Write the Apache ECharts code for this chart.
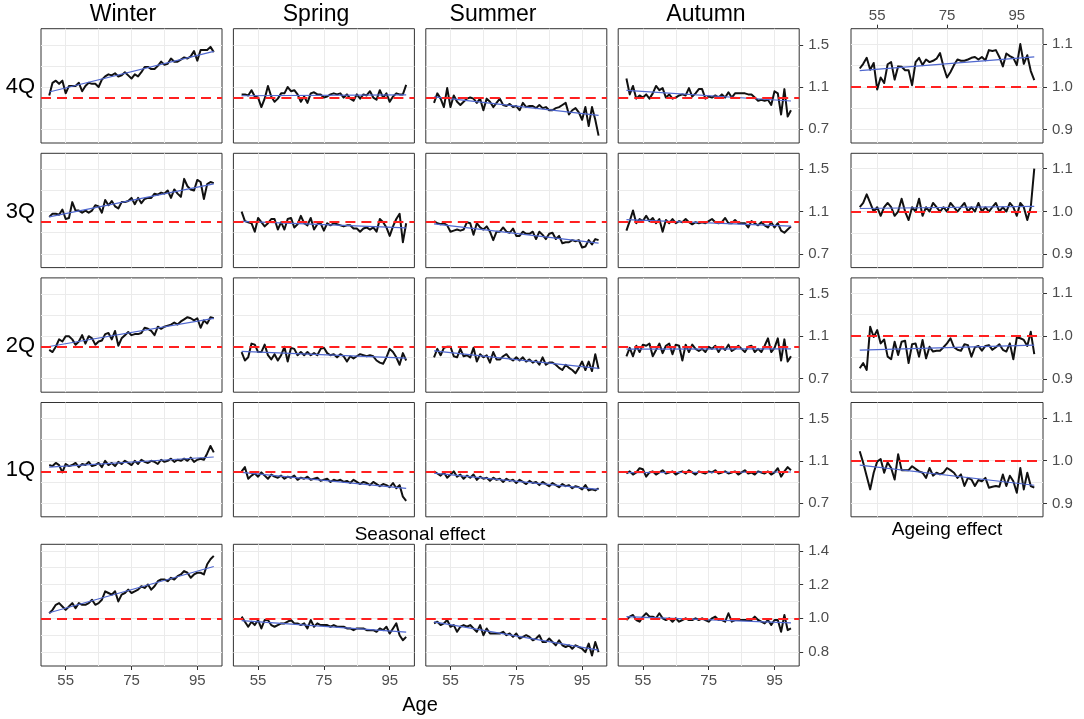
<!DOCTYPE html>
<html>
<head>
<meta charset="utf-8">
<script src="https://cdn.jsdelivr.net/npm/echarts@6/dist/echarts.min.js"></script>
<style>
  html, body { margin: 0; padding: 0; background: #ffffff; }
  #chart { width: 1084px; height: 719px; }
</style>
</head>
<body>
<div id="chart"></div>
<script>
// ---- data -------------------------------------------------------------
const ages = [50,51,52,53,54,55,56,57,58,59,60,61,62,63,64,65,66,67,68,69,70,71,72,73,74,75,
  76,77,78,79,80,81,82,83,84,85,86,87,88,89,90,91,92,93,94,95,96,97,98,99,100];

const seasons = ['Winter', 'Spring', 'Summer', 'Autumn'];
const quarters = ['4Q', '3Q', '2Q', '1Q'];

const ageTicks = [55, 75, 95];
const ageGridlines = [55, 65, 75, 85, 95];
const quarterTicks = [0.7, 1.1, 1.5];
const quarterGridlines = [0.7, 0.9, 1.1, 1.3, 1.5];
const seasonalTicks = [0.8, 1.0, 1.2, 1.4];
const seasonalGridlines = [0.8, 0.9, 1.0, 1.1, 1.2, 1.3, 1.4];
const ageingTicks = [0.9, 1.0, 1.1];
const ageingGridlines = [0.9, 0.95, 1.0, 1.05, 1.1];

// 4th quarter
const winter4Q = [1.02,1.14,1.16,1.13,1.16,1.04,1.11,1.11,1.11,1.14,1.06,1.11,1.14,1.13,1.13,1.10,1.17,1.20,1.22,1.21,1.23,1.20,1.21,1.24,1.21,1.18,1.22,1.20,1.24,1.29,1.29,1.27,1.27,1.30,1.34,1.31,1.32,1.37,1.34,1.34,1.36,1.38,1.37,1.39,1.44,1.35,1.45,1.45,1.45,1.48,1.43];
const spring4Q = [1.03,1.03,1.02,1.07,1.01,1.00,0.91,0.99,1.11,1.01,0.96,0.99,1.04,1.04,1.10,1.06,1.07,1.03,0.96,1.01,0.95,1.04,1.05,1.03,1.03,1.00,1.01,1.03,1.04,1.03,1.04,1.00,1.03,0.99,0.97,1.03,0.99,1.03,1.02,1.06,1.00,0.98,1.07,1.00,1.04,0.96,1.01,1.04,1.03,1.03,1.12];
const summer4Q = [0.95,1.04,0.99,0.91,1.09,0.91,1.02,0.96,0.93,0.96,0.99,1.00,0.99,0.95,0.99,0.88,0.99,0.96,0.91,0.95,0.99,0.93,0.92,0.94,0.91,0.92,0.88,0.95,0.91,0.92,0.92,0.90,0.93,0.90,0.91,0.88,0.88,0.90,0.91,0.93,0.95,0.84,0.88,0.90,0.86,0.79,0.91,0.73,0.91,0.79,0.64];
const autumn4Q = [1.18,1.03,1.11,0.99,1.02,1.00,1.03,0.99,1.04,1.11,1.07,1.09,1.00,1.03,0.99,1.00,1.02,1.03,1.02,1.09,1.01,1.04,1.08,1.08,0.99,1.01,1.00,1.02,1.00,1.03,1.00,1.05,1.00,1.04,1.04,1.04,1.04,1.03,1.03,1.00,0.97,0.98,0.97,0.98,0.93,1.06,1.04,0.84,1.08,0.82,0.88];

// 3rd quarter
const winter3Q = [1.05,1.08,1.08,1.07,1.12,1.03,1.04,1.19,1.11,1.11,1.09,1.11,1.09,1.11,1.16,1.15,1.09,1.21,1.16,1.20,1.15,1.13,1.19,1.19,1.20,1.23,1.17,1.23,1.18,1.22,1.23,1.23,1.27,1.26,1.28,1.27,1.30,1.23,1.31,1.27,1.24,1.41,1.34,1.31,1.30,1.40,1.38,1.22,1.36,1.38,1.37];
const spring3Q = [1.10,1.01,1.00,0.99,0.91,1.04,1.00,0.96,0.99,1.03,1.03,0.93,1.00,0.93,1.03,1.04,0.95,0.98,1.06,0.99,0.97,1.04,0.93,0.98,0.99,0.92,0.99,0.97,0.99,0.98,0.97,0.96,0.97,0.97,0.94,0.94,0.91,0.94,0.95,0.93,0.95,0.91,1.03,1.00,0.95,0.87,0.96,1.03,1.08,0.81,0.99];
const summer3Q = [1.01,0.99,0.98,0.99,0.97,0.91,0.92,0.93,0.92,0.93,1.00,0.99,0.88,0.99,0.95,0.93,0.96,0.91,0.83,0.91,0.91,0.95,0.91,0.90,0.94,0.87,0.87,0.91,0.89,0.89,0.91,0.84,0.91,0.88,0.84,0.89,0.90,0.84,0.87,0.80,0.81,0.81,0.83,0.82,0.83,0.76,0.77,0.83,0.79,0.84,0.83];
const autumn3Q = [0.92,1.01,1.11,0.99,1.03,1.01,1.06,1.01,1.04,0.99,1.03,0.91,1.02,0.99,1.03,0.99,1.01,1.00,1.03,1.00,0.98,1.00,0.99,1.00,0.99,1.01,1.03,1.00,0.99,1.00,1.04,0.99,0.99,1.02,0.99,0.99,0.99,0.95,1.01,0.99,0.97,1.00,0.97,0.95,1.00,0.95,0.99,0.92,0.90,0.93,0.96];

// 2nd quarter
const winter2Q = [0.97,0.95,1.00,1.07,1.05,1.10,1.10,1.07,1.02,1.05,1.11,1.03,1.10,1.08,1.02,1.05,1.06,1.12,1.13,1.07,1.15,1.01,1.08,1.11,1.14,1.11,1.12,1.12,1.13,1.18,1.17,1.15,1.11,1.19,1.17,1.19,1.20,1.21,1.23,1.21,1.24,1.26,1.28,1.27,1.25,1.27,1.18,1.25,1.22,1.28,1.27];
const spring2Q = [0.95,0.87,0.90,1.03,1.02,0.95,0.95,1.02,0.92,0.88,0.93,0.87,0.92,1.00,0.86,0.99,0.98,0.92,0.95,0.92,0.95,0.92,0.94,0.92,0.98,0.99,0.94,0.92,0.93,0.90,0.93,0.91,0.86,0.91,0.89,0.91,0.93,0.92,0.91,0.92,0.91,0.87,0.85,0.84,0.90,0.98,0.95,0.90,0.83,0.94,0.87];
const summer2Q = [0.90,0.98,0.92,0.99,1.00,1.00,0.91,0.90,0.98,0.91,0.92,0.90,0.99,0.86,0.93,0.90,0.92,0.85,0.95,0.88,0.88,0.91,0.93,0.89,0.87,0.90,0.87,0.90,0.86,0.88,0.85,0.87,0.83,0.90,0.83,0.85,0.85,0.83,0.80,0.78,0.83,0.80,0.78,0.75,0.80,0.86,0.78,0.86,0.77,0.93,0.79];
const autumn2Q = [0.91,0.99,0.91,1.01,0.95,1.02,1.01,1.03,0.91,0.97,1.03,0.94,1.01,1.03,0.93,1.02,1.01,0.87,1.02,0.95,1.02,0.98,0.96,0.98,0.95,1.00,0.98,1.01,0.95,1.00,0.97,1.02,0.96,0.98,1.01,0.98,0.95,1.00,1.01,0.95,0.98,0.95,1.01,1.08,0.95,0.99,1.08,0.87,1.07,0.86,0.91];

// 1st quarter
const winter1Q = [1.06,1.05,1.08,1.06,0.99,1.07,1.05,1.06,1.08,1.04,1.07,1.06,1.09,1.05,1.06,1.08,1.04,1.10,1.06,1.08,1.05,1.09,1.07,1.10,1.08,1.06,1.10,1.07,1.11,1.09,1.08,1.10,1.09,1.07,1.11,1.09,1.10,1.12,1.09,1.11,1.10,1.12,1.10,1.13,1.09,1.11,1.12,1.11,1.17,1.24,1.18];
const spring1Q = [1.00,1.04,0.93,0.96,0.98,0.95,0.99,0.96,0.93,0.97,0.95,0.94,0.96,0.93,0.95,0.94,0.96,0.92,0.94,0.93,0.95,0.92,0.93,0.94,0.91,0.92,0.93,0.90,0.92,0.91,0.92,0.90,0.91,0.89,0.92,0.90,0.88,0.90,0.89,0.87,0.90,0.88,0.86,0.88,0.87,0.85,0.89,0.84,0.87,0.76,0.72];
const summer1Q = [1.00,0.98,0.96,0.99,0.94,0.97,1.00,0.95,0.97,0.93,0.96,0.94,0.97,0.92,0.95,0.93,0.94,0.91,0.94,0.92,0.93,0.90,0.93,0.91,0.92,0.89,0.92,0.90,0.88,0.91,0.89,0.90,0.87,0.90,0.88,0.86,0.89,0.87,0.85,0.88,0.86,0.87,0.84,0.86,0.85,0.83,0.87,0.82,0.83,0.82,0.84];
const autumn1Q = [0.98,1.00,0.97,0.99,1.03,1.02,0.95,0.99,1.00,0.97,0.99,1.01,0.98,0.99,1.00,0.97,0.99,1.00,0.98,1.01,0.99,0.97,1.00,0.99,0.98,1.00,0.99,1.01,0.98,0.99,1.00,0.98,0.99,1.00,0.97,0.99,1.01,0.98,0.99,0.97,1.00,0.99,0.98,1.00,0.97,0.99,1.03,0.95,1.00,1.04,1.01];

// seasonal effect
const seasonalWinter = [1.03,1.05,1.08,1.09,1.07,1.05,1.07,1.09,1.06,1.09,1.08,1.08,1.09,1.11,1.08,1.09,1.11,1.16,1.15,1.14,1.16,1.10,1.14,1.15,1.17,1.15,1.16,1.17,1.19,1.18,1.20,1.17,1.19,1.22,1.23,1.23,1.22,1.24,1.23,1.25,1.26,1.28,1.27,1.24,1.26,1.27,1.27,1.26,1.32,1.35,1.37];
const seasonalSpring = [1.01,0.98,0.95,0.98,0.96,0.99,0.94,0.99,0.99,0.96,0.95,0.96,0.97,0.97,0.98,0.99,0.97,0.97,0.96,0.97,0.94,0.99,0.95,0.97,0.96,0.96,0.96,0.95,0.96,0.95,0.95,0.95,0.94,0.94,0.93,0.94,0.94,0.94,0.93,0.93,0.93,0.92,0.94,0.93,0.95,0.91,0.94,0.97,0.90,0.87,0.89];
const seasonalSummer = [0.97,0.98,0.96,0.97,0.99,0.95,0.96,0.92,0.95,0.96,0.95,0.96,0.94,0.92,0.96,0.90,0.94,0.91,0.91,0.91,0.91,0.92,0.90,0.91,0.89,0.91,0.88,0.89,0.90,0.89,0.87,0.88,0.90,0.86,0.86,0.88,0.86,0.84,0.87,0.84,0.83,0.84,0.82,0.84,0.83,0.82,0.80,0.85,0.78,0.86,0.80];
const seasonalAutumn = [0.99,1.01,1.02,0.99,0.98,1.01,1.03,1.01,1.01,1.00,1.03,1.00,0.99,1.00,0.98,1.00,0.98,0.99,1.00,0.99,0.99,1.00,0.99,1.00,0.99,0.98,1.00,1.01,0.99,0.99,0.98,1.03,0.98,0.99,0.99,0.99,0.99,0.99,0.99,1.01,0.99,0.98,0.97,0.99,0.96,0.99,0.99,0.92,1.02,0.93,0.94];

// ageing effect
const ageing4Q = [1.043,1.054,1.068,1.040,1.056,0.994,1.022,1.009,1.053,1.058,1.017,1.048,1.047,1.039,1.039,1.004,1.058,1.068,1.051,1.064,1.058,1.061,1.066,1.079,1.047,1.022,1.035,1.051,1.064,1.061,1.061,1.064,1.068,1.070,1.064,1.070,1.062,1.086,1.084,1.086,1.070,1.048,1.078,1.072,1.068,1.051,1.100,1.054,1.074,1.037,1.016];
const ageing3Q = [1.01,1.02,1.04,1.02,1.00,1.01,0.99,1.01,1.02,1.01,0.99,1.00,1.03,1.00,0.98,1.01,1.00,1.03,0.99,1.01,1.00,1.02,1.01,1.00,1.01,1.00,1.02,1.01,1.00,1.01,1.02,1.00,1.01,1.00,1.02,1.00,1.01,1.00,1.01,1.02,1.00,1.01,1.00,1.02,1.01,0.99,1.02,1.01,0.98,1.01,1.10];
const ageing2Q = [0.925,0.937,0.921,1.022,0.998,1.014,0.983,0.992,0.952,0.946,0.987,0.956,0.987,0.989,0.937,0.981,0.983,0.952,0.991,0.948,0.975,0.964,0.966,0.966,0.974,0.983,0.995,0.974,0.968,0.966,0.981,0.979,0.952,0.974,0.977,0.966,0.977,0.979,0.968,0.974,0.981,0.968,0.964,0.983,0.946,0.997,0.995,0.991,0.977,1.010,0.958];
const ageing1Q = [1.022,0.995,0.964,0.933,0.972,0.998,1.004,0.972,0.996,0.983,0.956,1.015,0.978,0.978,0.978,0.987,0.981,0.975,0.972,0.960,0.983,0.965,0.972,0.968,0.972,0.983,0.978,0.972,0.960,0.968,0.941,0.960,0.956,0.941,0.955,0.952,0.960,0.937,0.939,0.941,0.939,0.968,0.941,0.965,0.952,0.925,0.983,0.933,0.972,0.941,0.937];

// ---- layout & style ---------------------------------------------------
const FONT = '"Liberation Sans", Arial, Helvetica, sans-serif';
const GRID_COLOR = '#ebebeb';
const BORDER_COLOR = '#333333';
const FIT_COLOR = '#4f67cf';
const REF_COLOR = '#ff2020';
const AGE_MIN = 47.5, AGE_MAX = 102.5;

const quarterScale = { min: 0.57, max: 1.652, grid: quarterGridlines, ticks: quarterTicks };
const seasonalScale = { min: 0.7175, max: 1.4385, grid: seasonalGridlines, ticks: seasonalTicks };
const ageingScale = { min: 0.869, max: 1.136, grid: ageingGridlines, ticks: ageingTicks };

const colLeft = [41, 233.4, 425.8, 618.2];
const colWidth = 181;
const rowTop = [28.7, 153.3, 277.9, 402.5];
const rowHeight = 114.3;
const seasonalTop = 544.3, seasonalHeight = 121.7;
const ageingLeft = 851, ageingWidth = 192;

const quarterRows = [
  [winter4Q, spring4Q, summer4Q, autumn4Q],
  [winter3Q, spring3Q, summer3Q, autumn3Q],
  [winter2Q, spring2Q, summer2Q, autumn2Q],
  [winter1Q, spring1Q, summer1Q, autumn1Q]
];
const seasonalRow = [seasonalWinter, seasonalSpring, seasonalSummer, seasonalAutumn];
const ageingCol = [ageing4Q, ageing3Q, ageing2Q, ageing1Q];

// least-squares trend over the age range
function linearFit(values) {
  const n = values.length;
  let sx = 0, sy = 0, sxx = 0, sxy = 0;
  for (let i = 0; i < n; i++) {
    const x = ages[i], y = values[i];
    sx += x; sy += y; sxx += x * x; sxy += x * y;
  }
  const b = (n * sxy - sx * sy) / (n * sxx - sx * sx);
  const a = (sy - b * sx) / n;
  return [[ages[0], a + b * ages[0]], [ages[n - 1], a + b * ages[n - 1]]];
}

const tickLabelStyle = { color: '#4d4d4d', fontSize: 15, fontFamily: FONT };
const grids = [], xAxes = [], yAxes = [], series = [];

function addPanel(box, values, scale, opts) {
  const gi = grids.length;
  grids.push({
    left: box.left, top: box.top, width: box.width, height: box.height,
    show: true, borderColor: BORDER_COLOR, borderWidth: 1
  });

  // data axes (not drawn)
  const xi = xAxes.length;
  xAxes.push({
    type: 'value', gridIndex: gi, min: AGE_MIN, max: AGE_MAX,
    position: opts.xLabels === 'bottom' ? 'top' : 'bottom',
    axisLine: { show: false, onZero: false }, axisTick: { show: false },
    axisLabel: { show: false }, splitLine: { show: false }
  });
  const yi = yAxes.length;
  yAxes.push({
    type: 'value', gridIndex: gi, min: scale.min, max: scale.max, position: 'left',
    axisLine: { show: false, onZero: false }, axisTick: { show: false },
    axisLabel: { show: false }, splitLine: { show: false }
  });

  // labelled axes
  if (opts.xLabels) {
    xAxes.push({
      type: 'value', gridIndex: gi, min: AGE_MIN, max: AGE_MAX, position: opts.xLabels,
      axisLine: { show: false, onZero: false },
      axisTick: { show: true, length: 4, lineStyle: { color: BORDER_COLOR, width: 1 }, customValues: ageTicks },
      axisLabel: Object.assign({ show: true, customValues: ageTicks, margin: opts.xLabels === 'top' ? 5 : 7 }, tickLabelStyle),
      splitLine: { show: false }
    });
  }
  if (opts.yLabels) {
    yAxes.push({
      type: 'value', gridIndex: gi, min: scale.min, max: scale.max, position: 'right',
      axisLine: { show: false, onZero: false },
      axisTick: { show: true, length: 4, lineStyle: { color: BORDER_COLOR, width: 1 }, customValues: scale.ticks },
      axisLabel: Object.assign({ show: true, customValues: scale.ticks, margin: 9,
        formatter: v => Number(v).toFixed(1) }, tickLabelStyle),
      splitLine: { show: false }
    });
  }

  // background grid lines, kept underneath the data
  series.push({
    type: 'line', xAxisIndex: xi, yAxisIndex: yi,
    data: [[AGE_MIN, scale.min]],
    symbol: 'none', showSymbol: false, silent: true, animation: false, z: 1,
    lineStyle: { opacity: 0 },
    markLine: {
      z: 1, silent: true, symbol: 'none', animation: false,
      label: { show: false },
      lineStyle: { color: GRID_COLOR, width: 1, type: 'solid' },
      data: ageGridlines.map(v => ({ xAxis: v })).concat(scale.grid.map(v => ({ yAxis: v })))
    }
  });

  series.push({
    type: 'line', xAxisIndex: xi, yAxisIndex: yi,
    data: values.map((v, i) => [ages[i], v]),
    symbol: 'none', showSymbol: false, silent: true, animation: false, z: 3,
    lineStyle: { color: '#111111', width: 2, join: 'round' }
  });
  series.push({
    type: 'line', xAxisIndex: xi, yAxisIndex: yi,
    data: linearFit(values),
    symbol: 'none', showSymbol: false, silent: true, animation: false, z: 4,
    lineStyle: { color: FIT_COLOR, width: 1.2 },
    markLine: {
      z: 5, silent: true, symbol: 'none', animation: false,
      label: { show: false },
      lineStyle: { color: REF_COLOR, width: 2, type: [10, 6] },
      data: [{ yAxis: 1 }]
    }
  });
}

// quarter panels
quarterRows.forEach((row, r) => {
  row.forEach((values, c) => {
    addPanel({ left: colLeft[c], top: rowTop[r], width: colWidth, height: rowHeight },
      values, quarterScale, { yLabels: c === 3 });
  });
});
// seasonal effect panels
seasonalRow.forEach((values, c) => {
  addPanel({ left: colLeft[c], top: seasonalTop, width: colWidth, height: seasonalHeight },
    values, seasonalScale, { xLabels: 'bottom', yLabels: c === 3 });
});
// ageing effect panels
ageingCol.forEach((values, r) => {
  addPanel({ left: ageingLeft, top: rowTop[r], width: ageingWidth, height: rowHeight },
    values, ageingScale, { xLabels: r === 0 ? 'top' : null, yLabels: true });
});

// ---- text -------------------------------------------------------------
function label(text, x, y, size) {
  return {
    type: 'text', silent: true, z: 10,
    style: { text: text, x: x, y: y, fill: '#000000', font: size + 'px ' + FONT,
      textAlign: 'center', textVerticalAlign: 'middle', align: 'center', verticalAlign: 'middle' }
  };
}
const seasonTitleX = [123, 316, 493, 706];
const quarterLabelY = [87, 212, 346, 470];
const graphics = [];
seasons.forEach((s, i) => graphics.push(label(s, seasonTitleX[i], 15, 23)));
quarters.forEach((q, i) => graphics.push(label(q, 20.5, quarterLabelY[i], 22)));
graphics.push(label('Seasonal effect', 420, 535, 19));
graphics.push(label('Age', 420, 705, 20));
graphics.push(label('Ageing effect', 947, 530, 19));

const chart = echarts.init(document.getElementById('chart'), null, { renderer: 'canvas' });
chart.setOption({
  animation: false,
  backgroundColor: '#ffffff',
  textStyle: { fontFamily: FONT },
  grid: grids,
  xAxis: xAxes,
  yAxis: yAxes,
  series: series,
  graphic: graphics
});
</script>
</body>
</html>
